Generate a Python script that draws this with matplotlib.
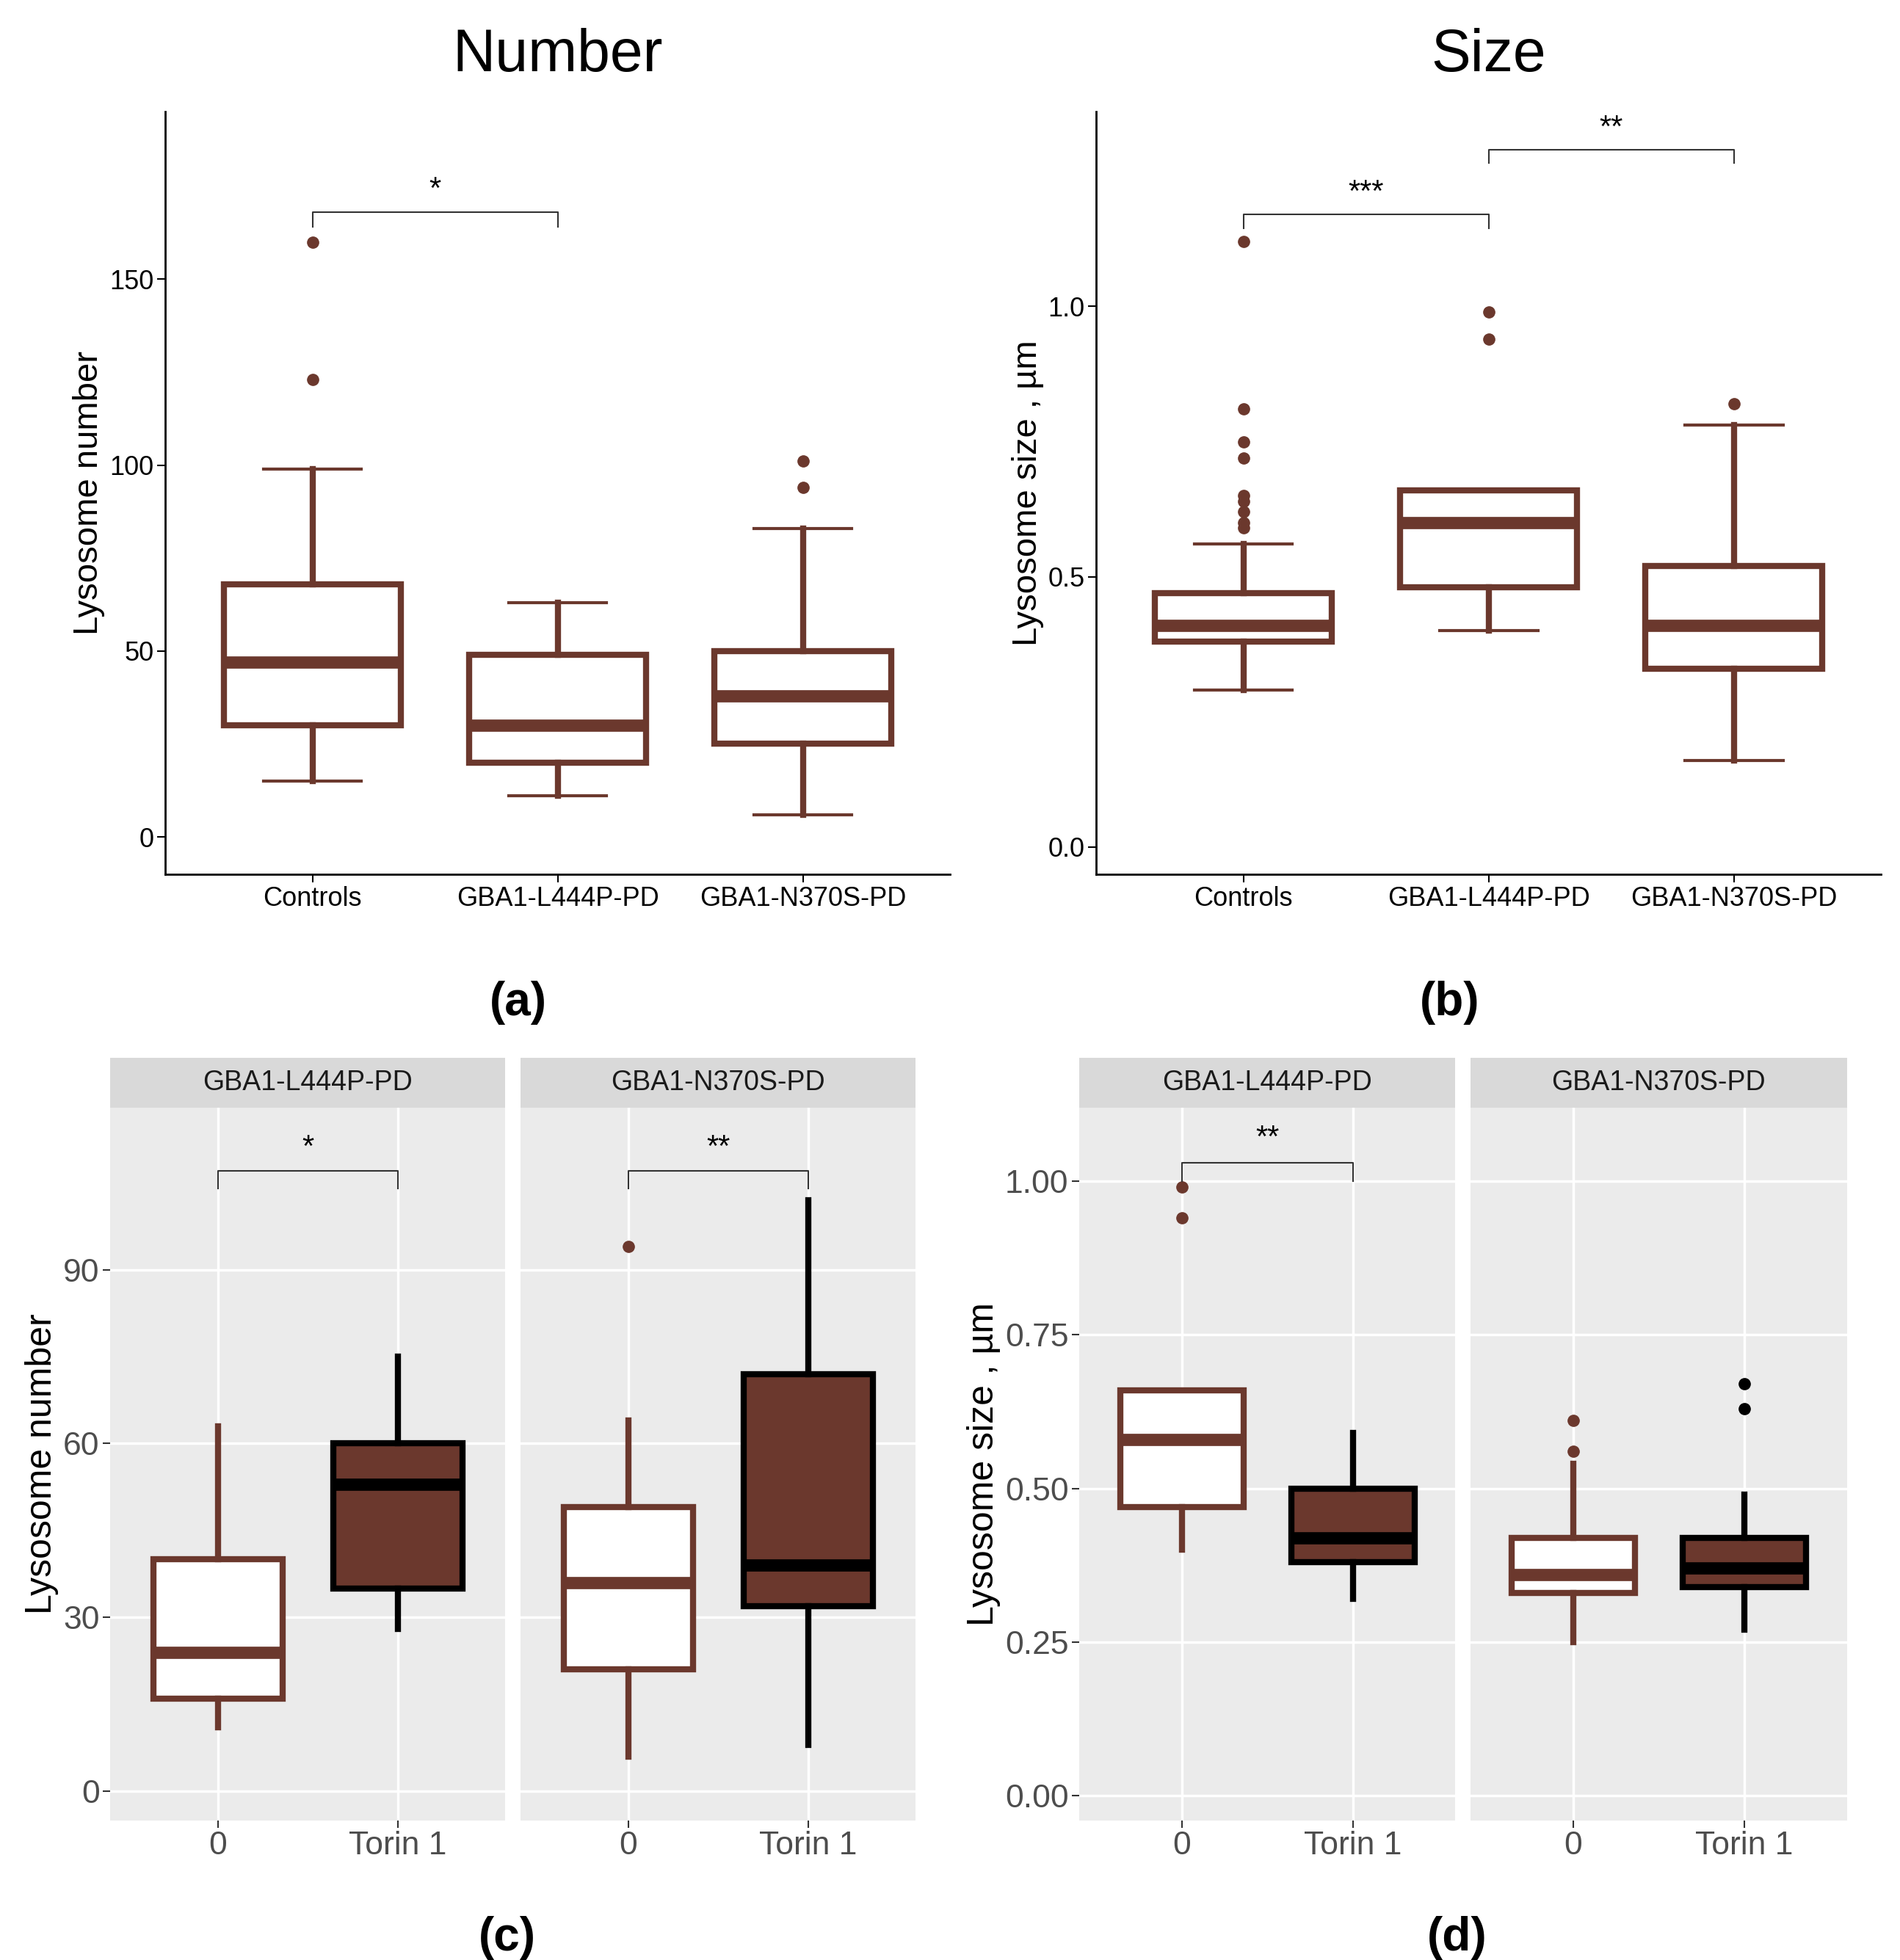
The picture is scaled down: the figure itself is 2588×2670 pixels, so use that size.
import matplotlib.pyplot as plt

plt.rcParams['font.family'] = ['Liberation Sans', 'DejaVu Sans']

BROWN = '#6b382d'

# (a) lysosome number per group: whislo, q1, med, q3, whishi, fliers
groups = ['Controls', 'GBA1-L444P-PD', 'GBA1-N370S-PD']
num_stats = [(15, 30, 47, 68, 99, [123, 160]),
             (11, 20, 30, 49, 63, []),
             (6, 25, 38, 50, 83, [94, 101])]
# (b) lysosome size
size_stats = [(0.29, 0.38, 0.41, 0.47, 0.56, [0.59, 0.60, 0.62, 0.64, 0.65, 0.72, 0.75, 0.81, 1.12]),
              (0.40, 0.48, 0.60, 0.66, 0.66, [0.94, 0.99]),
              (0.16, 0.33, 0.41, 0.52, 0.78, [0.82])]
# (c) number, untreated vs Torin 1
facets = ['GBA1-L444P-PD', 'GBA1-N370S-PD']
treat = ['0', 'Torin 1']
c_stats = [[(11, 16, 24, 40, 63, []), (28, 35, 53, 60, 75, [])],
           [(6, 21, 36, 49, 64, [94]), (8, 32, 39, 72, 102, [])]]
c_sig = ['*', '**']
# (d) size, untreated vs Torin 1
d_stats = [[(0.40, 0.47, 0.58, 0.66, 0.66, [0.94, 0.99]), (0.32, 0.38, 0.42, 0.50, 0.59, [])],
           [(0.25, 0.33, 0.36, 0.42, 0.54, [0.56, 0.61]), (0.27, 0.34, 0.37, 0.42, 0.49, [0.63, 0.67])]]
d_sig = ['**', None]


def to_bxp(s):
    return dict(whislo=s[0], q1=s[1], med=s[2], q3=s[3], whishi=s[4], fliers=s[5])


def draw_box(ax, s, pos, fill, edge, lw=6, width=0.72):
    ax.bxp([to_bxp(s)], positions=[pos], widths=width, patch_artist=True, showcaps=False,
           boxprops=dict(facecolor=fill, edgecolor=edge, linewidth=lw),
           whiskerprops=dict(color=edge, linewidth=lw),
           medianprops=dict(color=edge, linewidth=lw * 2),
           flierprops=dict(marker='o', markerfacecolor=edge, markeredgecolor=edge, markersize=11))


def bracket(ax, x1, x2, y, h, text, fs=30):
    ax.plot([x1, x1, x2, x2], [y - h, y, y, y - h], color='#333333', lw=1.5)
    ax.text((x1 + x2) / 2, y + h * 0.5, text, ha='center', va='bottom', fontsize=fs)


fig = plt.figure(figsize=(25.88, 26.7), dpi=100)

# top panels
for k, (stats, ylim, ticks, ylabel, title, lab, brs) in enumerate([
        (num_stats, (-10, 195), [0, 50, 100, 150], 'Lysosome number', 'Number', '(a)',
         [(1, 2, 168, 4, '*')]),
        (size_stats, (-0.05, 1.36), [0.0, 0.5, 1.0], 'Lysosome size , \u00b5m', 'Size', '(b)',
         [(1, 2, 1.17, 0.025, '***'), (2, 3, 1.29, 0.025, '**')])]):
    left = 0.087 if k == 0 else 0.577
    ax = fig.add_axes([left, 0.554, 0.413, 0.389])
    for i, s in enumerate(stats):
        ax.bxp([to_bxp(s)], positions=[i + 1], widths=0.72, patch_artist=True,
               boxprops=dict(facecolor='white', edgecolor=BROWN, linewidth=6),
               whiskerprops=dict(color=BROWN, linewidth=6),
               capprops=dict(color=BROWN, linewidth=3), capwidths=0.4,
               medianprops=dict(color=BROWN, linewidth=12),
               flierprops=dict(marker='o', markerfacecolor=BROWN, markeredgecolor=BROWN, markersize=11))
    for b in brs:
        bracket(ax, *b)
    ax.set_xlim(0.4, 3.6)
    ax.set_ylim(*ylim)
    ax.set_yticks(ticks)
    ax.set_xticks([1, 2, 3])
    ax.set_xticklabels(groups)
    ax.tick_params(labelsize=26, length=8, width=1.5)
    for sp in ['top', 'right']:
        ax.spines[sp].set_visible(False)
    for sp in ['left', 'bottom']:
        ax.spines[sp].set_linewidth(2)
    ax.set_ylabel(ylabel, fontsize=34)
    ax.set_title(title, fontsize=58, pad=40)
    ax.text(0.45, -0.14, lab, transform=ax.transAxes, ha='center', va='top',
            fontsize=46, fontweight='bold')

# bottom panels
for k, (stats, sigs, ylim, ticks, tlabels, ylabel, lab, lefts, w, bh) in enumerate([
        (c_stats, c_sig, (-5, 118), [0, 30, 60, 90], ['0', '30', '60', '90'],
         'Lysosome number', '(c)', [0.058, 0.274], 0.208, (107, 3)),
        (d_stats, d_sig, (-0.04, 1.12), [0, 0.25, 0.5, 0.75, 1.0],
         ['0.00', '0.25', '0.50', '0.75', '1.00'], 'Lysosome size , \u00b5m', '(d)',
         [0.568, 0.774], 0.198, (1.03, 0.03))]):
    axes = []
    for f in range(2):
        ax = fig.add_axes([lefts[f], 0.0713, w, 0.3637])
        ax.set_facecolor('#ebebeb')
        for y in ticks:
            ax.axhline(y, color='white', lw=2.5, zorder=0)
        for x in [1, 2]:
            ax.axvline(x, color='white', lw=2.5, zorder=0)
        draw_box(ax, stats[f][0], 1, 'white', BROWN)
        bx = ax.bxp([to_bxp(stats[f][1])], positions=[2], widths=0.72, patch_artist=True, showcaps=False,
                    boxprops=dict(facecolor=BROWN, edgecolor='black', linewidth=6),
                    whiskerprops=dict(color='black', linewidth=6),
                    medianprops=dict(color='black', linewidth=12),
                    flierprops=dict(marker='o', markerfacecolor='black', markeredgecolor='black', markersize=11))
        if sigs[f]:
            bracket(ax, 1, 2, bh[0], bh[1], sigs[f])
        ax.set_xlim(0.4, 2.6)
        ax.set_ylim(*ylim)
        ax.set_xticks([1, 2])
        ax.set_xticklabels(treat)
        ax.set_yticks(ticks)
        if f == 0:
            ax.set_yticklabels(tlabels)
            ax.set_ylabel(ylabel, fontsize=36)
        else:
            ax.tick_params(axis='y', left=False, labelleft=False)
        ax.tick_params(labelsize=32, labelcolor='#4d4d4d', color='#333333', length=7, width=1.5)
        for sp in ax.spines.values():
            sp.set_visible(False)
        # strip
        ax.text(0.5, 1.0, facets[f], transform=ax.transAxes, ha='center', va='bottom',
                fontsize=27, color='#1a1a1a',
                bbox=dict(boxstyle='square,pad=0', facecolor='#d9d9d9', edgecolor='none'))
        strip = plt.Rectangle((0, 1.0), 1, 0.07, transform=ax.transAxes, facecolor='#d9d9d9',
                              edgecolor='none', clip_on=False, zorder=-1)
        ax.add_patch(strip)
        axes.append(ax)
    for t in axes:
        for txt in t.texts:
            if txt.get_text() in facets:
                txt.set_position((0.5, 1.035))
                txt.set_va('center')
                txt.set_bbox(None)
    fig.text(lefts[0] + (lefts[1] + w - lefts[0]) / 2 - 0.003, 0.0, lab, ha='center', va='bottom',
             fontsize=46, fontweight='bold')

fig.savefig('out.png', dpi=100)
